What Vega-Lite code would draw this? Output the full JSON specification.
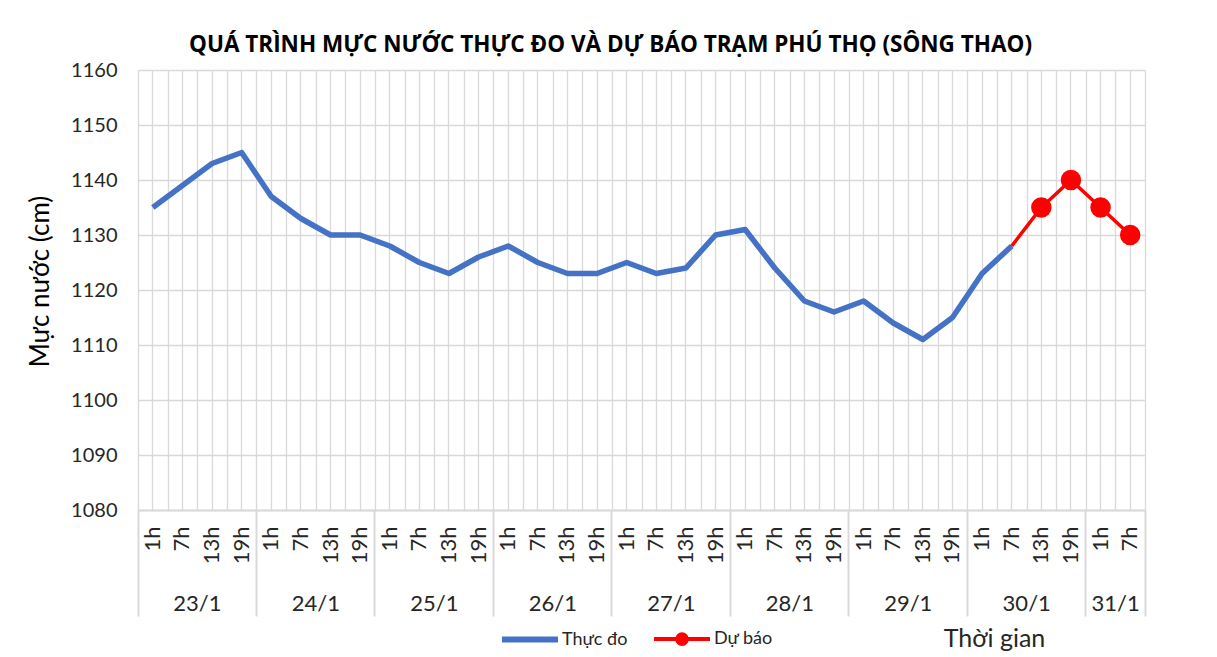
{
  "$schema": "https://vega.github.io/schema/vega-lite/v6.json",
  "width": 1007,
  "height": 440,
  "autosize": {"type": "none"},
  "padding": {"left": 138, "top": 70, "right": 72, "bottom": 147},
  "background": "#ffffff",
  "title": {
    "text": "QUÁ TRÌNH MỰC NƯỚC THỰC ĐO VÀ DỰ BÁO TRẠM PHÚ THỌ (SÔNG THAO)",
    "font": "Open Sans",
    "fontSize": 22.5,
    "fontWeight": "bold",
    "color": "#000000",
    "anchor": "middle",
    "frame": "group",
    "baseline": "alphabetic",
    "offset": 16,
    "dx": -31,
    "dy": 30
  },
  "config": {
    "view": {"stroke": null},
    "axis": {"labelFont": "Lato", "labelColor": "#262626", "titleFont": "Lato", "titleColor": "#262626", "gridColor": "#d9d9d9", "gridWidth": 1.3}
  },
  "data": {
    "values": [
      {"t": "23/1 1h", "obs": 1135, "fc": null},
      {"t": "23/1 7h", "obs": 1139, "fc": null},
      {"t": "23/1 13h", "obs": 1143, "fc": null},
      {"t": "23/1 19h", "obs": 1145, "fc": null},
      {"t": "24/1 1h", "obs": 1137, "fc": null},
      {"t": "24/1 7h", "obs": 1133, "fc": null},
      {"t": "24/1 13h", "obs": 1130, "fc": null},
      {"t": "24/1 19h", "obs": 1130, "fc": null},
      {"t": "25/1 1h", "obs": 1128, "fc": null},
      {"t": "25/1 7h", "obs": 1125, "fc": null},
      {"t": "25/1 13h", "obs": 1123, "fc": null},
      {"t": "25/1 19h", "obs": 1126, "fc": null},
      {"t": "26/1 1h", "obs": 1128, "fc": null},
      {"t": "26/1 7h", "obs": 1125, "fc": null},
      {"t": "26/1 13h", "obs": 1123, "fc": null},
      {"t": "26/1 19h", "obs": 1123, "fc": null},
      {"t": "27/1 1h", "obs": 1125, "fc": null},
      {"t": "27/1 7h", "obs": 1123, "fc": null},
      {"t": "27/1 13h", "obs": 1124, "fc": null},
      {"t": "27/1 19h", "obs": 1130, "fc": null},
      {"t": "28/1 1h", "obs": 1131, "fc": null},
      {"t": "28/1 7h", "obs": 1124, "fc": null},
      {"t": "28/1 13h", "obs": 1118, "fc": null},
      {"t": "28/1 19h", "obs": 1116, "fc": null},
      {"t": "29/1 1h", "obs": 1118, "fc": null},
      {"t": "29/1 7h", "obs": 1114, "fc": null},
      {"t": "29/1 13h", "obs": 1111, "fc": null},
      {"t": "29/1 19h", "obs": 1115, "fc": null},
      {"t": "30/1 1h", "obs": 1123, "fc": null},
      {"t": "30/1 7h", "obs": 1128, "fc": 1128},
      {"t": "30/1 13h", "obs": null, "fc": 1135},
      {"t": "30/1 19h", "obs": null, "fc": 1140},
      {"t": "31/1 1h", "obs": null, "fc": 1135},
      {"t": "31/1 7h", "obs": null, "fc": 1130}
    ]
  },
  "resolve": {"axis": {"x": "independent"}},
  "layer": [
    {
      "mark": {"type": "line", "strokeWidth": 5.5, "strokeJoin": "round"},
      "encoding": {
        "x": {
          "field": "t", "type": "nominal",
          "scale": {"domain": ["23/1 1h","23/1 7h","23/1 13h","23/1 19h","24/1 1h","24/1 7h","24/1 13h","24/1 19h","25/1 1h","25/1 7h","25/1 13h","25/1 19h","26/1 1h","26/1 7h","26/1 13h","26/1 19h","27/1 1h","27/1 7h","27/1 13h","27/1 19h","28/1 1h","28/1 7h","28/1 13h","28/1 19h","29/1 1h","29/1 7h","29/1 13h","29/1 19h","30/1 1h","30/1 7h","30/1 13h","30/1 19h","31/1 1h","31/1 7h"], "type": "band", "paddingInner": 0, "paddingOuter": 0},
          "axis": {"orient": "bottom", "grid": true, "tickBand": "center", "labels": false, "ticks": false, "domain": false, "title": null}
        },
        "y": {
          "field": "obs", "type": "quantitative",
          "scale": {"domain": [1080, 1160], "zero": false, "nice": false},
          "axis": {"values": [1080,1090,1100,1110,1120,1130,1140,1150,1160], "format": "d", "grid": true, "domain": false, "ticks": false, "labelFontSize": 20, "labelPadding": 21, "title": "Mực nước (cm)", "titleFontSize": 26, "titleFontWeight": "normal", "titleColor": "#000000", "titleX": -98, "titleY": 211, "titleAlign": "center", "titleBaseline": "middle", "titleAngle": -90}
        },
        "color": {
          "datum": "Thực đo",
          "type": "nominal",
          "scale": {"domain": ["Thực đo", "Dự báo"], "range": ["#4472C4", "#FF0000"]},
          "legend": {
            "title": null,
            "orient": "none",
            "legendX": 383,
            "legendY": 560,
            "direction": "horizontal",
            "symbolType": "stroke",
            "symbolSize": 3136,
            "symbolStrokeWidth": 6,
            "labelFont": "Lato",
            "labelFontSize": 18,
            "labelColor": "#262626",
            "labelOffset": 23,
            "columnPadding": 18,
            "encode": {
              "symbols": {
                "update": {
                  "shape": {"signal": "datum.value === 'Dự báo' ? 'M-1,0H1M0.17,0A0.17,0.17,0,1,1,-0.17,0A0.17,0.17,0,1,1,0.17,0' : 'stroke'"},
                  "fill": {"signal": "datum.value === 'Dự báo' ? '#FF0000' : 'transparent'"},
                  "strokeWidth": {"signal": "datum.value === 'Dự báo' ? 4 : 6"}
                }
              }
            }
          }
        }
      }
    },
    {
      "mark": {"type": "line", "strokeWidth": 3.5, "strokeJoin": "round"},
      "encoding": {
        "x": {"field": "t", "type": "nominal", "axis": {"orient": "bottom", "grid": true, "tickBand": "extent", "labels": false, "ticks": false, "domain": false, "title": null}},
        "y": {"field": "fc", "type": "quantitative"},
        "color": {"datum": "Dự báo", "type": "nominal"}
      }
    },
    {
      "transform": [{"filter": "datum.t !== '30/1 7h'"}],
      "mark": {"type": "point", "filled": true, "opacity": 1, "size": 420},
      "encoding": {
        "x": {"field": "t", "type": "nominal", "axis": {"orient": "bottom", "grid": false, "labelExpr": "split(datum.value, ' ')[1]", "labelAngle": -90, "labelAlign": "right", "labelBaseline": "middle", "labelFontSize": 22, "labelPadding": 16, "ticks": false, "tickSize": 0, "domain": true, "domainColor": "#d9d9d9", "domainWidth": 2, "title": null}},
        "y": {"field": "fc", "type": "quantitative"},
        "color": {"datum": "Dự báo", "type": "nominal"}
      }
    },
    {
      "mark": {"type": "line", "opacity": 0},
      "encoding": {
        "x": {"field": "t", "type": "nominal", "axis": {"orient": "bottom", "values": ["23/1 19h","24/1 19h","25/1 19h","26/1 19h","27/1 19h","28/1 19h","29/1 19h","30/1 19h","31/1 7h"], "bandPosition": 1, "labels": false, "grid": false, "domain": false, "ticks": true, "tickSize": 106, "tickWidth": 2, "tickColor": "#d9d9d9", "title": null}},
        "y": {"field": "obs", "type": "quantitative"}
      }
    },
    {
      "mark": {"type": "line", "opacity": 0},
      "encoding": {
        "x": {"field": "t", "type": "nominal", "axis": {"orient": "bottom", "values": ["23/1 1h"], "bandPosition": 0, "labels": false, "grid": false, "domain": false, "ticks": true, "tickSize": 106, "tickWidth": 2, "tickColor": "#d9d9d9", "title": null}},
        "y": {"field": "obs", "type": "quantitative"}
      }
    },
    {
      "mark": {"type": "line", "opacity": 0},
      "encoding": {
        "x": {"field": "t", "type": "nominal", "axis": {"orient": "bottom", "values": ["23/1 7h","24/1 7h","25/1 7h","26/1 7h","27/1 7h","28/1 7h","29/1 7h","30/1 7h","31/1 1h"], "labelOffset": 15, "labelExpr": "split(datum.value, ' ')[0]", "labelAngle": 0, "labelAlign": "center", "labelBaseline": "middle", "labelFontSize": 22, "labelPadding": 93, "ticks": false, "tickSize": 0, "grid": false, "domain": false, "title": "Thời gian", "titleFontSize": 25, "titleFontWeight": "normal", "titleColor": "#262626", "titleX": 856, "titleY": 128, "titleAlign": "center", "titleBaseline": "middle"}},
        "y": {"field": "obs", "type": "quantitative"}
      }
    }
  ]
}
